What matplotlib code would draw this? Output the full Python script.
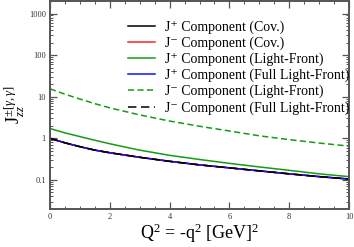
import numpy as np
import matplotlib
matplotlib.use("Agg")
import matplotlib.pyplot as plt
from matplotlib.ticker import FixedLocator, LogLocator, NullFormatter, FixedFormatter, MultipleLocator

plt.rcParams['font.family'] = ['Liberation Serif', 'DejaVu Serif']
plt.rcParams['mathtext.fontset'] = 'custom'
plt.rcParams['mathtext.rm'] = 'Liberation Serif'
plt.rcParams['mathtext.it'] = 'Liberation Serif:italic'
plt.rcParams['mathtext.bf'] = 'Liberation Serif:bold'

# Data
q2 = [0, 0.5, 1, 1.5, 2, 3, 4, 5, 6, 7, 8, 9, 10]
jplus_cov = [1.0, 0.78, 0.63, 0.52, 0.45, 0.35, 0.28, 0.23, 0.195, 0.165, 0.14, 0.12, 0.105]
jminus_cov = [1.0, 0.78, 0.63, 0.52, 0.45, 0.35, 0.28, 0.23, 0.195, 0.165, 0.14, 0.12, 0.105]
jplus_lf = [1.72, 1.35, 1.1, 0.9, 0.74, 0.52, 0.39, 0.31, 0.25, 0.205, 0.17, 0.14, 0.12]
jplus_full = [1.0, 0.78, 0.63, 0.52, 0.45, 0.35, 0.28, 0.23, 0.195, 0.165, 0.14, 0.12, 0.105]
jminus_lf = [15.5, 11.5, 8.8, 6.8, 5.4, 3.65, 2.6, 1.95, 1.5, 1.15, 0.93, 0.77, 0.65]
jminus_full = [1.0, 0.78, 0.63, 0.52, 0.45, 0.35, 0.28, 0.23, 0.195, 0.165, 0.14, 0.12, 0.105]

labels = ['J\u207a Component (Cov.)',
          'J\u207b Component (Cov.)',
          'J\u207a Component (Light-Front)',
          'J\u207a Component (Full Light-Front)',
          'J\u207b Component (Light-Front)',
          'J\u207b Component (Full Light-Front)']
xticks = [0, 2, 4, 6, 8, 10]
yticks = [0.1, 1, 10, 100, 1000]
yticklabels = ['0.1', '1', '10', '100', '1000']

W, H = 354, 247
fig = plt.figure(figsize=(W/100, H/100), dpi=100)
ax = fig.add_axes([50/W, 1-209/H, 299/W, 208/H])

green = '#139c13'
lw = 1.1
ax.plot(q2, jplus_cov, color='black', lw=lw, label=labels[0])
ax.plot(q2, jminus_cov, color='#ff2020', lw=lw, label=labels[1])
ax.plot(q2, jplus_lf, color=green, lw=lw, label=labels[2])
ax.plot(q2, jplus_full, color='#1010ff', lw=lw, label=labels[3])
ax.plot(q2, jminus_lf, color=green, lw=lw, ls=(0, (4, 2.2)), label=labels[4])
ax.plot(q2, jminus_full, color='black', lw=lw, ls=(0, (5.5, 3)), label=labels[5])

ax.set_yscale('log')
ax.set_xlim(0, 10)
ax.set_ylim(0.02, 2000)

ax.xaxis.set_major_locator(FixedLocator(xticks))
ax.xaxis.set_minor_locator(MultipleLocator(0.5))
ax.set_xticklabels([str(t) for t in xticks])
ax.yaxis.set_major_locator(FixedLocator(yticks))
ax.yaxis.set_major_formatter(FixedFormatter(yticklabels))
ax.yaxis.set_minor_locator(LogLocator(base=10, subs=np.arange(2, 10), numticks=20))
ax.yaxis.set_minor_formatter(NullFormatter())

sc = '#555555'
for s in ax.spines.values():
    s.set_color(sc)
    s.set_linewidth(1.4)
ax.tick_params(which='both', direction='in', top=True, right=True, colors=sc,
               labelcolor='#333333', labelsize=6)
ax.tick_params(which='major', length=5, width=0.9, pad=3)
ax.tick_params(which='minor', length=2.5, width=0.7)

ax.set_xlabel(r'Q$^{2}$ = -q$^{2}$ [GeV]$^{2}$', fontsize=13, labelpad=0)
ax.set_ylabel(r'J$^{\pm[\gamma,\gamma]}_{zz}$', fontsize=13, labelpad=1)

leg = fig.legend(loc='upper left', bbox_to_anchor=(128/W, 1-20.5/H),
                 frameon=False, fontsize=10, handlelength=1.95, handletextpad=0.7,
                 labelspacing=0.19, borderpad=0, borderaxespad=0)

fig.savefig('out.png', dpi=100)
